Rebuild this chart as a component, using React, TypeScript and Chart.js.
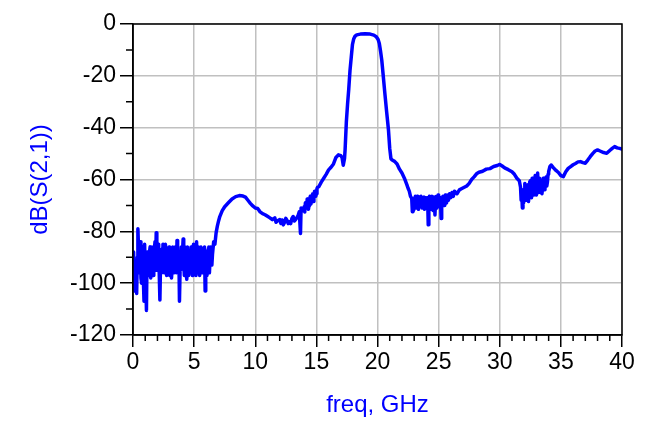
import React, { useEffect, useRef } from "react";
import { Chart, registerables } from "chart.js";

Chart.register(...registerables);

const freqGHz: number[] = [
  0.0, 0.1, 0.2, 0.3, 0.4, 0.5, 0.6, 0.7, 0.8, 0.9,
  1.0, 1.1, 1.2, 1.3, 1.4, 1.5, 1.6, 1.7, 1.8, 1.9,
  2.0, 2.1, 2.2, 2.3, 2.4, 2.5, 2.6, 2.7, 2.8, 2.9,
  3.0, 3.1, 3.2, 3.3, 3.4, 3.5, 3.6, 3.7, 3.8, 3.9,
  4.0, 4.1, 4.2, 4.3, 4.4, 4.5, 4.6, 4.7, 4.8, 4.9,
  5.0, 5.1, 5.2, 5.3, 5.4, 5.5, 5.6, 5.7, 5.8, 5.9,
  6.0, 6.1, 6.2, 6.3, 6.4, 6.5, 6.6, 6.7, 6.8, 6.9,
  7.0, 7.1, 7.3, 7.5, 7.8, 8.1, 8.4, 8.7, 9.0, 9.2,
  9.4, 9.6, 9.8, 10.0, 10.2, 10.4, 10.6, 10.8, 11.0, 11.2,
  11.4, 11.6, 11.8, 12.0, 12.1, 12.2, 12.4, 12.6, 12.7, 12.8,
  13.0, 13.1, 13.3, 13.5, 13.6, 13.7, 13.75, 13.9, 14.0, 14.1,
  14.2, 14.3, 14.4, 14.5, 14.6, 14.7, 14.8, 14.9, 15.0, 15.1,
  15.2, 15.4, 15.6, 15.8, 16.0, 16.2, 16.4, 16.6, 16.8, 17.0,
  17.1, 17.2, 17.3, 17.35, 17.45, 17.55, 17.65, 17.75, 17.85, 17.95,
  18.05, 18.15, 18.3, 18.6, 19.0, 19.4, 19.7, 19.9, 20.05, 20.15,
  20.25, 20.35, 20.45, 20.6, 20.75, 20.9, 21.0, 21.1, 21.2, 21.4,
  21.6, 21.8, 22.0, 22.2, 22.4, 22.5, 22.6, 22.7, 22.8, 22.85,
  22.9, 23.0, 23.1, 23.2, 23.3, 23.4, 23.5, 23.6, 23.7, 23.8,
  23.9, 24.0, 24.1, 24.15, 24.2, 24.3, 24.4, 24.5, 24.6, 24.7,
  24.8, 24.9, 25.0, 25.1, 25.2, 25.3, 25.4, 25.5, 25.6, 25.7,
  25.8, 25.9, 26.0, 26.1, 26.2, 26.3, 26.5, 26.7, 26.9, 27.1,
  27.3, 27.5, 27.7, 27.9, 28.1, 28.3, 28.6, 28.9, 29.2, 29.5,
  29.8, 30.0, 30.2, 30.4, 30.7, 31.0, 31.2, 31.4, 31.6, 31.7,
  31.8, 31.85, 31.9, 32.0, 32.1, 32.2, 32.3, 32.4, 32.5, 32.6,
  32.7, 32.8, 32.9, 33.0, 33.1, 33.2, 33.3, 33.4, 33.5, 33.6,
  33.7, 33.8, 33.9, 34.0, 34.1, 34.2, 34.4, 34.6, 34.8, 35.0,
  35.2, 35.4, 35.6, 35.8, 36.0, 36.2, 36.4, 36.6, 36.8, 37.0,
  37.2, 37.4, 37.6, 37.8, 38.0, 38.2, 38.5, 38.75, 39.0, 39.2,
  39.4, 39.6, 39.8, 40.0,
];

const s21dB: number[] = [
  -97, -103, -92, -104, -79, -96, -84, -100, -88, -107,
  -94, -110.5, -90, -97, -86, -93, -88, -95, -84, -80.5,
  -92, -88, -106.5, -87, -90, -86, -92, -88, -95, -91,
  -97, -89, -94, -90, -92, -88, -83.5, -95, -107, -91,
  -94, -83, -97, -89, -98.5, -92, -88, -96, -90, -94,
  -87, -91, -84, -96, -89, -93, -87, -95, -90, -103,
  -88, -95, -86, -91, -87, -89, -84, -85, -80.5, -78,
  -76, -74.3, -72, -70.5, -69, -67.5, -66.6, -66.2, -66.4, -66.8,
  -68, -69.2, -70.2, -71, -71.2, -72.5, -73.2, -73.6, -74.2, -74.8,
  -75.5, -74.8, -76, -75.5, -77, -75.6, -76.5, -75.8, -77, -76.3,
  -75, -74.3, -75.5, -74, -72.5, -80.8, -71, -72, -70.5, -69,
  -71, -68, -70, -66.5, -68.5, -65.5, -67, -64.5, -65.5, -63,
  -62.8, -61, -59.5, -58, -56.3, -55.3, -54, -51.5, -50.5, -50.8,
  -51.5, -54.5, -52, -48.5, -38, -31, -25, -18, -13, -8,
  -5.8, -4.8, -4.2, -3.9, -3.8, -3.9, -4.3, -4.9, -6, -7.5,
  -10.5, -14, -19, -26.7, -34, -41, -48, -52, -52.5, -53,
  -54, -56, -57.5, -59.5, -62, -63.4, -64.5, -66.5, -67.3, -72.4,
  -68, -70, -66.5, -71, -68.5, -67, -70.5, -67.5, -69.5, -66.8,
  -70, -68, -67, -77.5, -68, -70, -67.5, -69, -66.8, -73.7,
  -66.6, -68.5, -67.5, -69, -75, -67.9, -69.5, -66.5, -68.5, -66,
  -68, -65.5, -67, -65, -66.5, -64.5, -65.5, -64, -63.5, -63,
  -62.5, -61.5, -60, -59, -57.8, -57.2, -56.8, -56, -55.8, -55,
  -54.6, -54.2, -54.8, -55.5, -56.2, -57, -58, -59.5, -60.5, -63,
  -65.3, -71, -64, -66, -62.5, -67.5, -62, -66, -60.5, -67,
  -60, -64, -58.5, -66, -57.5, -62, -64, -61, -63.5, -60,
  -62.5, -59, -61, -57, -55, -54.4, -55.5, -56.5, -57.3, -58.5,
  -58.9, -57, -55.7, -55, -54.3, -53.8, -53.2, -53.1, -53.5, -53.7,
  -52.5, -51.2, -50, -49, -48.6, -49, -49.6, -49.9, -48.8, -48,
  -47.3, -47.8, -48, -48.3,
];

const noiseFreqGHz: number[] = [
  0.05, 0.15, 0.25, 0.35, 0.45, 0.55, 0.65, 0.75, 0.85, 0.95,
  1.05, 1.15, 1.25, 1.35, 1.45, 1.55, 1.65, 1.75, 1.85, 1.95,
  2.05, 2.15, 2.25, 2.35, 2.45, 2.55, 2.65, 2.75, 2.85, 2.95,
  3.05, 3.15, 3.25, 3.35, 3.45, 3.55, 3.65, 3.75, 3.85, 3.95,
  4.05, 4.15, 4.25, 4.35, 4.45, 4.55, 4.65, 4.75, 4.85, 4.95,
  5.05, 5.15, 5.25, 5.35, 5.45, 5.55, 5.65, 5.75, 5.85, 5.95,
  6.05, 6.15, 6.25, 6.35, 6.45,
  11.7, 12.3, 12.5, 12.9, 13.2,
  14.05, 14.15, 14.25, 14.35, 14.45, 14.55, 14.65, 14.75, 14.85, 14.95, 15.05,
  22.95, 23.05, 23.15, 23.25, 23.35, 23.45, 23.55, 23.65, 23.75, 23.85,
  23.95, 24.05, 24.25, 24.35, 24.45, 24.55, 24.65, 24.75, 24.85, 24.95,
  25.05, 25.15, 25.25, 25.35, 25.45, 25.55, 25.65,
  31.75, 31.95, 32.05, 32.15, 32.25, 32.35, 32.45, 32.55, 32.65, 32.75,
  32.85, 32.95, 33.05, 33.15, 33.25, 33.35, 33.45, 33.55, 33.65, 33.75,
  33.85, 33.95,
];

const noiseDB: number[] = [
  -88, -95, -98, -90, -86, -90, -98, -86, -99, -85,
  -100, -88, -96, -88, -98, -86, -97, -87, -92, -95,
  -85, -97, -93, -96, -85, -96, -85, -97, -87, -86,
  -92, -98, -86, -96, -86, -96, -92, -88, -95, -86,
  -88, -92, -86, -96, -86, -97, -94, -86, -97, -85,
  -95, -97, -92, -86, -97, -86, -96, -87, -86, -92,
  -97, -87, -96, -86, -93,
  -76.5, -77.5, -75, -77, -76,
  -72.5, -70.5, -67.5, -71.5, -67.5, -69.5, -66, -68.5, -64.5, -66.5, -63.5,
  -72, -67, -70, -66.5, -71.5, -68, -66.5, -71, -67, -71.5,
  -67, -70.5, -66.5, -71.5, -66.5, -72, -68, -67.5, -71, -66,
  -70.5, -67, -68, -66.5, -70, -66, -69,
  -68, -69, -61.5, -68, -63, -68.5, -61, -64, -59.5, -66,
  -60, -63, -59, -65, -59.5, -62, -65.5, -59.5, -64, -60,
  -62.5, -58,
];

const yMajorTicks: number[] = [0, -20, -40, -60, -80, -100, -120];
const yMinorTicks: number[] = [-10, -30, -50, -70, -90, -110];
const xMajorTicks: number[] = [0, 5, 10, 15, 20, 25, 30, 35, 40];
const xMinorTicks: number[] = [
  1, 2, 3, 4, 6, 7, 8, 9, 11, 12, 13, 14, 16, 17, 18, 19,
  21, 22, 23, 24, 26, 27, 28, 29, 31, 32, 33, 34, 36, 37, 38, 39,
];

const FONT = "'Liberation Sans', Arial, sans-serif";

const framePlugin = {
  id: "frameAndMinorTicks",
  afterDraw(chart: any) {
    const { ctx, chartArea, scales } = chart;
    const { left, right, top, bottom } = chartArea;
    ctx.save();
    ctx.strokeStyle = "#000000";
    ctx.lineWidth = 1.5;
    ctx.strokeRect(left, top, right - left, bottom - top);
    ctx.beginPath();
    for (const v of yMinorTicks) {
      const py = scales.y.getPixelForValue(v);
      ctx.moveTo(left - 7, py);
      ctx.lineTo(left, py);
    }
    for (const v of xMinorTicks) {
      const px = scales.x.getPixelForValue(v);
      ctx.moveTo(px, bottom);
      ctx.lineTo(px, bottom + 6);
    }
    ctx.stroke();
    ctx.restore();
  },
};

export default function App() {
  const canvasRef = useRef<HTMLCanvasElement | null>(null);

  useEffect(() => {
    if (!canvasRef.current) return;
    const points = freqGHz
      .map((f, i) => ({ x: f, y: s21dB[i] }))
      .concat(noiseFreqGHz.map((f, i) => ({ x: f, y: noiseDB[i] })))
      .sort((a, b) => a.x - b.x);
    const chart = new Chart(canvasRef.current, {
      type: "line",
      data: {
        datasets: [
          {
            label: "dB(S(2,1))",
            data: points,
            borderColor: "#0000ff",
            backgroundColor: "#0000ff",
            borderWidth: 3.5,
            borderJoinStyle: "round",
            borderCapStyle: "round",
            pointRadius: 0,
            tension: 0,
            fill: false,
          },
        ],
      },
      options: {
        animation: false,
        responsive: true,
        maintainAspectRatio: false,
        layout: { padding: { left: 0, right: 37, top: 24, bottom: 0 } },
        plugins: {
          legend: { display: false },
          tooltip: { enabled: false },
          title: { display: false },
        },
        scales: {
          x: {
            type: "linear",
            min: 0,
            max: 40,
            afterBuildTicks: (scale: any) => {
              scale.ticks = xMajorTicks.map((v) => ({ value: v }));
            },
            afterFit: (scale: any) => {
              scale.height = 97;
            },
            ticks: {
              color: "#000000",
              font: { family: FONT, size: 23 },
              padding: 2,
              maxRotation: 0,
              autoSkip: false,
            },
            grid: {
              color: "#c0c0c0",
              lineWidth: 1.5,
              tickLength: 12,
              tickColor: "#000000",
              tickWidth: 1.5,
            },
            border: { display: true, color: "#000000", width: 1.5 },
            title: {
              display: true,
              text: "freq, GHz",
              color: "#0000ff",
              font: { family: FONT, size: 24 },
              padding: { top: 0, bottom: 12.5 },
            },
          },
          y: {
            type: "linear",
            min: -120,
            max: 0,
            afterBuildTicks: (scale: any) => {
              scale.ticks = yMajorTicks.map((v) => ({ value: v }));
            },
            afterFit: (scale: any) => {
              scale.width = 133;
            },
            ticks: {
              color: "#000000",
              font: { family: FONT, size: 23 },
              padding: 4,
              autoSkip: false,
            },
            grid: {
              color: "#c0c0c0",
              lineWidth: 1.5,
              tickLength: 13,
              tickColor: "#000000",
              tickWidth: 1.5,
            },
            border: { display: true, color: "#000000", width: 1.5 },
            title: {
              display: true,
              text: "dB(S(2,1))",
              color: "#0000ff",
              font: { family: FONT, size: 24 },
              padding: { top: 25.5, bottom: 0 },
            },
          },
        },
      },
      plugins: [framePlugin],
    });
    return () => chart.destroy();
  }, []);

  return (
    <div
      style={{
        position: "fixed",
        left: 0,
        top: 0,
        width: 659,
        height: 432,
        background: "#ffffff",
      }}
    >
      <canvas ref={canvasRef} />
    </div>
  );
}
